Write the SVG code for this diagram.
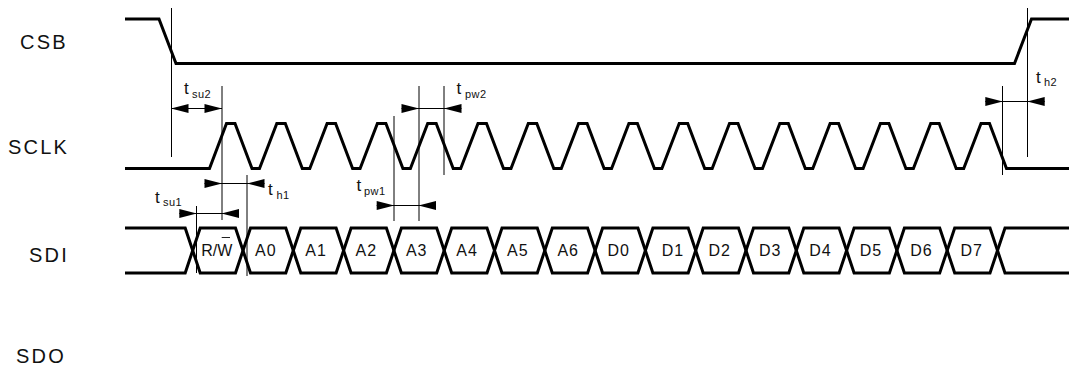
<svg xmlns="http://www.w3.org/2000/svg" width="1069" height="376" viewBox="0 0 1069 376">
<style>
text{font-family:"Liberation Sans",Arial,sans-serif;fill:#111}
.sig{font-size:20px;letter-spacing:2.2px}
.val{font-size:16px;letter-spacing:1px;text-anchor:middle}
.t{font-size:17px}
.s{font-size:11px;letter-spacing:.5px}
.w{fill:none;stroke:#000;stroke-width:3;stroke-linejoin:miter}
.v{fill:none;stroke:#000;stroke-width:1}
.d{fill:none;stroke:#000;stroke-width:1;marker-start:url(#rs);marker-end:url(#re)}
.o{fill:none;stroke:#000;stroke-width:1;marker-start:url(#os);marker-end:url(#oe)}
</style>
<defs>
<marker id="rs" markerUnits="userSpaceOnUse" markerWidth="1" markerHeight="1" orient="auto" overflow="visible"><path d="M0 -4.5L17.5 0L0 4.5Z"/></marker>
<marker id="re" markerUnits="userSpaceOnUse" markerWidth="1" markerHeight="1" orient="auto" overflow="visible"><path d="M0 -4.5L-17.5 0L0 4.5Z"/></marker>
<marker id="os" markerUnits="userSpaceOnUse" markerWidth="1" markerHeight="1" orient="auto" overflow="visible"><path d="M0 0L17.5 -4.5L17.5 4.5Z"/></marker>
<marker id="oe" markerUnits="userSpaceOnUse" markerWidth="1" markerHeight="1" orient="auto" overflow="visible"><path d="M0 0L-17.5 -4.5L-17.5 4.5Z"/></marker>
</defs>
<g id="csb">
<text class="sig" x="20" y="49">CSB</text>
<path class="w" d="M125 19H159L176 63.5H1014.5L1031.5 19H1069"/>
</g>
<g id="sclk">
<text class="sig" x="8" y="154">SCLK</text>
<path class="w" d="M125 168.5H209.5L226.5 123.5H235L252 168.5H259.5L276.8 123.5H285.3L302.3 168.5H309.8L327.1 123.5H335.6L352.6 168.5H360.1L377.4 123.5H385.9L402.9 168.5H410.4L427.7 123.5H436.2L453.2 168.5H460.7L478 123.5H486.5L503.5 168.5H511L528.3 123.5H536.8L553.8 168.5H561.3L578.6 123.5H587.1L604.1 168.5H611.6L628.9 123.5H637.4L654.4 168.5H661.9L679.2 123.5H687.7L704.7 168.5H712.2L729.5 123.5H738L755 168.5H762.5L779.8 123.5H788.3L805.3 168.5H812.8L830.1 123.5H838.6L855.6 168.5H863.1L880.4 123.5H888.9L905.9 168.5H913.4L930.7 123.5H939.2L956.2 168.5H963.7L981 123.5H989.5L1006.5 168.5H1069"/>
</g>
<g id="sdi">
<text class="sig" x="29" y="261.5">SDI</text>
<path class="w" d="M125 228H185.2L200.2 273H235.5L250.5 228H285.8L300.8 273H336.1L351.1 228H386.4L401.4 273H436.7L451.7 228H487L502 273H537.3L552.3 228H587.6L602.6 273H637.9L652.9 228H688.2L703.2 273H738.5L753.5 228H788.8L803.8 273H839.1L854.1 228H889.4L904.4 273H939.7L954.7 228H990L1005 273H1069"/>
<path class="w" d="M125 273H185.2L200.2 228H235.5L250.5 273H285.8L300.8 228H336.1L351.1 273H386.4L401.4 228H436.7L451.7 273H487L502 228H537.3L552.3 273H587.6L602.6 228H637.9L652.9 273H688.2L703.2 228H738.5L753.5 273H788.8L803.8 228H839.1L854.1 273H889.4L904.4 228H939.7L954.7 273H990L1005 228H1069"/>
<text class="val" x="216.7" y="255.5" style="letter-spacing:0">R/W</text>
<path class="v" d="M221.7 237.5H230" style="stroke:#222"/>
<text class="val" x="265.8" y="255.5">A0</text>
<text class="val" x="316.1" y="255.5">A1</text>
<text class="val" x="366.4" y="255.5">A2</text>
<text class="val" x="416.7" y="255.5">A3</text>
<text class="val" x="467" y="255.5">A4</text>
<text class="val" x="517.8" y="255.5">A5</text>
<text class="val" x="568.2" y="255.5">A6</text>
<text class="val" x="618.8" y="255.5">D0</text>
<text class="val" x="673" y="255.5">D1</text>
<text class="val" x="719.8" y="255.5">D2</text>
<text class="val" x="770.2" y="255.5">D3</text>
<text class="val" x="820.5" y="255.5">D4</text>
<text class="val" x="871" y="255.5">D5</text>
<text class="val" x="921.5" y="255.5">D6</text>
<text class="val" x="971.8" y="255.5">D7</text>
</g>
<g id="sdo">
<text class="sig" x="16" y="363">SDO</text>
</g>
<g id="connectors">
<path class="v" d="M171.5 8V157M222 86V220M247 175V276M196.5 206V273M394 116V221M419 86V221M444 86V175M1002.5 86V175M1027.5 8V157"/>
<path class="o" d="M171 108.5H222"/>
<path class="d" d="M401.5 108.5H461.5"/>
<path class="d" d="M204.5 183.5H264.5"/>
<path class="d" d="M179.3 213.5H239"/>
<path class="d" d="M376.7 205.5H436"/>
<path class="d" d="M985.3 101.5H1044.7"/>
</g>
<g id="timing-labels">
<text class="t" x="184" y="94">t</text><text class="s" x="192" y="97.5">su2</text>
<text class="t" x="456.5" y="94">t</text><text class="s" x="465" y="97.5">pw2</text>
<text class="t" x="268" y="195">t</text><text class="s" x="276.5" y="198.5">h1</text>
<text class="t" x="155" y="202.5">t</text><text class="s" x="163" y="206">su1</text>
<text class="t" x="356.5" y="191">t</text><text class="s" x="364" y="195">pw1</text>
<text class="t" x="1036" y="83">t</text><text class="s" x="1044" y="86">h2</text>
</g>
</svg>
